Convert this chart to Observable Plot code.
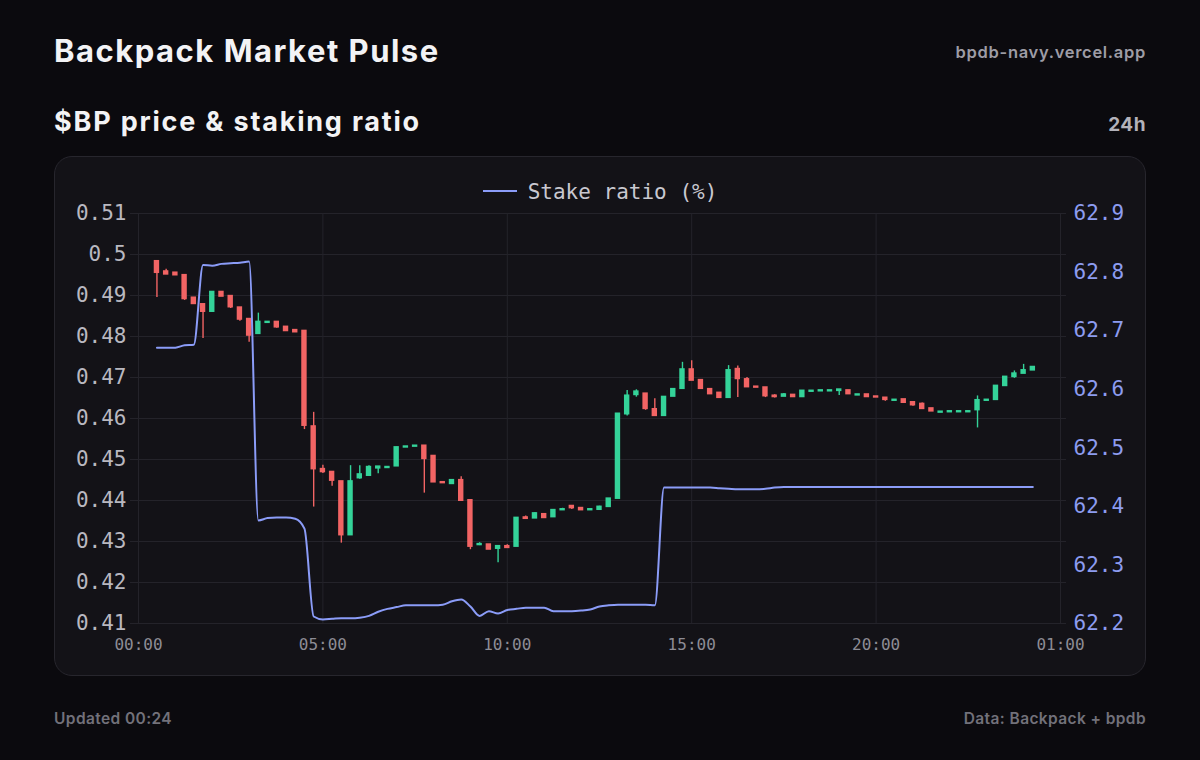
<!DOCTYPE html>
<html>
<head>
<meta charset="utf-8">
<script src="https://cdn.jsdelivr.net/npm/d3@7"></script>
<script src="https://cdn.jsdelivr.net/npm/@observablehq/plot@0.6"></script>
<style>
  html, body { margin: 0; padding: 0; }
  body { width: 1200px; height: 760px; background: #0b0a0e; position: relative; overflow: hidden; font-family: Inter, "Noto Sans", sans-serif; }
  .abs { position: absolute; white-space: nowrap; }
  #title { left: 54px; top: 35px; font-size: 31px; line-height: 31px; font-weight: 700; color: #f3f3f5; letter-spacing: 1.5px; }
  #site { right: 54px; top: 44px; font-size: 16.5px; line-height: 16px; font-weight: 600; color: #9d9ca5; letter-spacing: 0.7px; }
  #subtitle { left: 54px; top: 108px; font-size: 27px; line-height: 27px; font-weight: 700; color: #f3f3f5; letter-spacing: 1.8px; }
  #range { right: 54px; top: 115px; font-size: 19px; line-height: 19px; font-weight: 700; color: #b3b2ba; letter-spacing: 0.5px; }
  #card { left: 54px; top: 156px; width: 1090px; height: 518px; background: #131217; border: 1px solid #27262d; border-radius: 18px; }
  #legend { left: 0; top: 180px; width: 1200px; text-align: center; font-family: "DejaVu Sans Mono", monospace; font-size: 21px; line-height: 24px; color: #c9c8d0; }
  #legend .sw { display: inline-block; width: 34px; height: 0; border-top: 2px solid #8b9cf8; vertical-align: middle; margin-right: 11px; position: relative; top: -2px; }
  #chart { left: 54px; top: 200px; }
  #updated { left: 54px; top: 711px; font-size: 15.5px; line-height: 15px; font-weight: 600; color: #72717a; letter-spacing: 0.4px; }
  #source { right: 54px; top: 711px; font-size: 15.5px; line-height: 15px; font-weight: 600; color: #72717a; letter-spacing: 0.4px; }
</style>
</head>
<body>
<div id="title" class="abs">Backpack Market Pulse</div>
<div id="site" class="abs">bpdb-navy.vercel.app</div>
<div id="subtitle" class="abs">$BP price &amp; staking ratio</div>
<div id="range" class="abs">24h</div>
<div id="card" class="abs"></div>
<div id="legend" class="abs"><span class="sw"></span>Stake ratio (%)</div>
<div id="chart" class="abs"></div>
<div id="updated" class="abs">Updated 00:24</div>
<div id="source" class="abs">Data: Backpack + bpdb</div>
<script>
// ---- Data ----
const firstCandle = "2024-01-01T00:30:00Z";
const candleMinutes = 15;

const open = [
  0.4983,0.4958,0.4955,0.4949,0.4894,0.4878,0.4861,0.4908,0.4898,0.4870,
  0.4842,0.4807,0.4834,0.4835,0.4823,0.4815,0.4813,0.4580,0.4476,0.4469,
  0.4446,0.4316,0.4455,0.4461,0.4479,0.4480,0.4484,0.4530,0.4532,0.4533,
  0.4508,0.4444,0.4441,0.4449,0.4400,0.4292,0.4292,0.4283,0.4288,0.4288,
  0.4358,0.4357,0.4366,0.4360,0.4377,0.4386,0.4381,0.4377,0.4378,0.4385,
  0.4405,0.4611,0.4658,0.4660,0.4622,0.4607,0.4654,0.4673,0.4719,0.4693,
  0.4671,0.4662,0.4651,0.4720,0.4695,0.4677,0.4675,0.4655,0.4654,0.4657,
  0.4653,0.4666,0.4667,0.4667,0.4668,0.4668,0.4657,0.4658,0.4653,0.4650,
  0.4644,0.4646,0.4639,0.4635,0.4624,0.4615,0.4616,0.4616,0.4616,0.4621,
  0.4644,0.4646,0.4680,0.4702,0.4710,0.4718
];
const close = [
  0.4956,0.4952,0.4950,0.4892,0.4880,0.4861,0.4908,0.4898,0.4872,0.4842,
  0.4803,0.4835,0.4835,0.4823,0.4814,0.4811,0.4583,0.4477,0.4470,0.4449,
  0.4316,0.4446,0.4463,0.4481,0.4482,0.4481,0.4529,0.4531,0.4533,0.4502,
  0.4445,0.4443,0.4449,0.4400,0.4288,0.4293,0.4281,0.4288,0.4285,0.4357,
  0.4356,0.4368,0.4358,0.4376,0.4378,0.4382,0.4377,0.4378,0.4384,0.4404,
  0.4611,0.4655,0.4665,0.4624,0.4607,0.4652,0.4671,0.4719,0.4693,0.4673,
  0.4660,0.4651,0.4717,0.4697,0.4677,0.4676,0.4655,0.4653,0.4658,0.4653,
  0.4667,0.4667,0.4668,0.4668,0.4670,0.4660,0.4658,0.4653,0.4652,0.4646,
  0.4645,0.4639,0.4633,0.4624,0.4618,0.4616,0.4617,0.4617,0.4617,0.4644,
  0.4645,0.4679,0.4701,0.4709,0.4717,0.4725
];
const high = [
  0.4985,0.4964,0.4955,0.4949,0.4894,0.4878,0.4910,0.4909,0.4898,0.4870,
  0.4842,0.4857,0.4836,0.4835,0.4823,0.4815,0.4813,0.4615,0.4486,0.4469,
  0.4446,0.4485,0.4485,0.4485,0.4482,0.4482,0.4530,0.4532,0.4534,0.4534,
  0.4508,0.4444,0.4449,0.4458,0.4400,0.4297,0.4292,0.4288,0.4292,0.4357,
  0.4362,0.4370,0.4366,0.4376,0.4381,0.4386,0.4381,0.4378,0.4386,0.4404,
  0.4611,0.4668,0.4670,0.4660,0.4648,0.4652,0.4671,0.4737,0.4741,0.4693,
  0.4671,0.4662,0.4729,0.4728,0.4700,0.4677,0.4675,0.4658,0.4661,0.4657,
  0.4667,0.4667,0.4668,0.4668,0.4670,0.4668,0.4658,0.4658,0.4653,0.4650,
  0.4645,0.4646,0.4639,0.4638,0.4624,0.4616,0.4617,0.4617,0.4617,0.4655,
  0.4645,0.4679,0.4701,0.4716,0.4732,0.4725
];
const low = [
  0.4895,0.4951,0.4950,0.4888,0.4880,0.4795,0.4860,0.4898,0.4868,0.4837,
  0.4786,0.4806,0.4834,0.4820,0.4814,0.4811,0.4573,0.4384,0.4466,0.4435,
  0.4296,0.4316,0.4452,0.4461,0.4465,0.4479,0.4484,0.4530,0.4532,0.4418,
  0.4445,0.4443,0.4441,0.4400,0.4280,0.4290,0.4281,0.4248,0.4285,0.4288,
  0.4356,0.4357,0.4356,0.4360,0.4377,0.4378,0.4377,0.4377,0.4378,0.4385,
  0.4405,0.4606,0.4652,0.4620,0.4607,0.4607,0.4654,0.4673,0.4693,0.4673,
  0.4660,0.4651,0.4651,0.4651,0.4677,0.4676,0.4651,0.4650,0.4654,0.4653,
  0.4653,0.4666,0.4667,0.4667,0.4656,0.4660,0.4657,0.4653,0.4652,0.4642,
  0.4644,0.4639,0.4630,0.4624,0.4618,0.4615,0.4616,0.4616,0.4616,0.4577,
  0.4644,0.4646,0.4680,0.4698,0.4710,0.4718
];
const stakeRatio = [
  62.671,62.671,62.671,62.675,62.676,62.812,62.811,62.814,62.815,62.816,
  62.818,62.376,62.380,62.381,62.381,62.379,62.362,62.212,62.207,62.208,
  62.209,62.209,62.210,62.213,62.220,62.225,62.228,62.231,62.231,62.231,
  62.231,62.232,62.238,62.241,62.229,62.213,62.221,62.217,62.223,62.225,
  62.227,62.227,62.227,62.221,62.221,62.221,62.222,62.224,62.229,62.231,
  62.232,62.232,62.232,62.232,62.231,62.432,62.432,62.432,62.432,62.432,
  62.432,62.431,62.430,62.429,62.429,62.429,62.430,62.432,62.433,62.433,
  62.433,62.433,62.433,62.433,62.433,62.433,62.433,62.433,62.433,62.433,
  62.433,62.433,62.433,62.433,62.433,62.433,62.433,62.433,62.433,62.433,
  62.433,62.433,62.433,62.433,62.433,62.433
];
const priceTicks = [0.41,0.42,0.43,0.44,0.45,0.46,0.47,0.48,0.49,0.50,0.51];
const stakeTicks = [62.2,62.3,62.4,62.5,62.6,62.7,62.8,62.9];
const timeTicks = ["2024-01-01T00:00Z","2024-01-01T05:00Z","2024-01-01T10:00Z","2024-01-01T15:00Z","2024-01-01T20:00Z","2024-01-02T01:00Z"];
const timeDomain = ["2024-01-01T00:00Z","2024-01-02T01:00Z"];

// ---- Build table ----
const t0 = new Date(firstCandle).getTime();
const step = candleMinutes * 60000;
const UP = "#34d399", DOWN = "#f26464", STAKE = "#8b9cf8";
const candles = open.map((o, i) => ({
  t: new Date(t0 + i * step), open: o, close: close[i], high: high[i], low: low[i],
  color: close[i] >= o ? UP : DOWN, stake: stakeRatio[i]
}));
// map stake ratio (right axis) onto price scale (left axis)
const sMin = 62.2, sMax = 62.9, pMin = 0.41, pMax = 0.51;
const toPrice = s => pMin + (s - sMin) * (pMax - pMin) / (sMax - sMin);
const toStake = p => sMin + (p - pMin) * (sMax - sMin) / (pMax - pMin);
const halfBody = 4.4 * 60000;

const chart = Plot.plot({
  width: 1092, height: 470,
  marginTop: 13, marginBottom: 47, marginLeft: 76, marginRight: 80,
  style: { background: "transparent", color: "#b9b9c1", fontFamily: "DejaVu Sans Mono, monospace", overflow: "visible" },
  x: { type: "utc", domain: timeDomain.map(d => new Date(d)), insetLeft: 8, insetRight: 6, label: null },
  y: { domain: [pMin, pMax], label: null },
  color: { type: "identity" },
  marks: [
    Plot.gridY(priceTicks, { stroke: "#24232a", strokeOpacity: 1, strokeWidth: 1 }),
    Plot.gridX(timeTicks.map(d => new Date(d)), { stroke: "#24232a", strokeOpacity: 1, strokeWidth: 1 }),
    Plot.axisY(priceTicks, { anchor: "left", label: null, tickSize: 0, tickPadding: 4, fontSize: 21, fill: "#b9b8c0",
      tickFormat: d => String(+d.toFixed(2)) }),
    Plot.axisY(stakeTicks.map(toPrice), { anchor: "right", label: null, tickSize: 0, tickPadding: 7, fontSize: 21, fill: "#8d9cf0",
      tickFormat: d => toStake(d).toFixed(1) }),
    Plot.axisX(timeTicks.map(d => new Date(d)), { anchor: "bottom", label: null, tickSize: 0, tickPadding: 15, fontSize: 16, fill: "#8d8c95",
      tickFormat: d3.utcFormat("%H:%M") }),
    Plot.ruleX(candles, { x: "t", y1: "low", y2: "high", stroke: "color", strokeWidth: 1.4 }),
    Plot.rect(candles, { x1: d => new Date(d.t.getTime() - halfBody), x2: d => new Date(d.t.getTime() + halfBody),
      y1: "open", y2: "close", fill: "color", insetTop: -1, insetBottom: -1 }),
    Plot.line(candles, { x: "t", y: d => toPrice(d.stake), stroke: STAKE, strokeWidth: 2, curve: "monotone-x" })
  ]
});
document.getElementById("chart").appendChild(chart);
</script>
</body>
</html>
